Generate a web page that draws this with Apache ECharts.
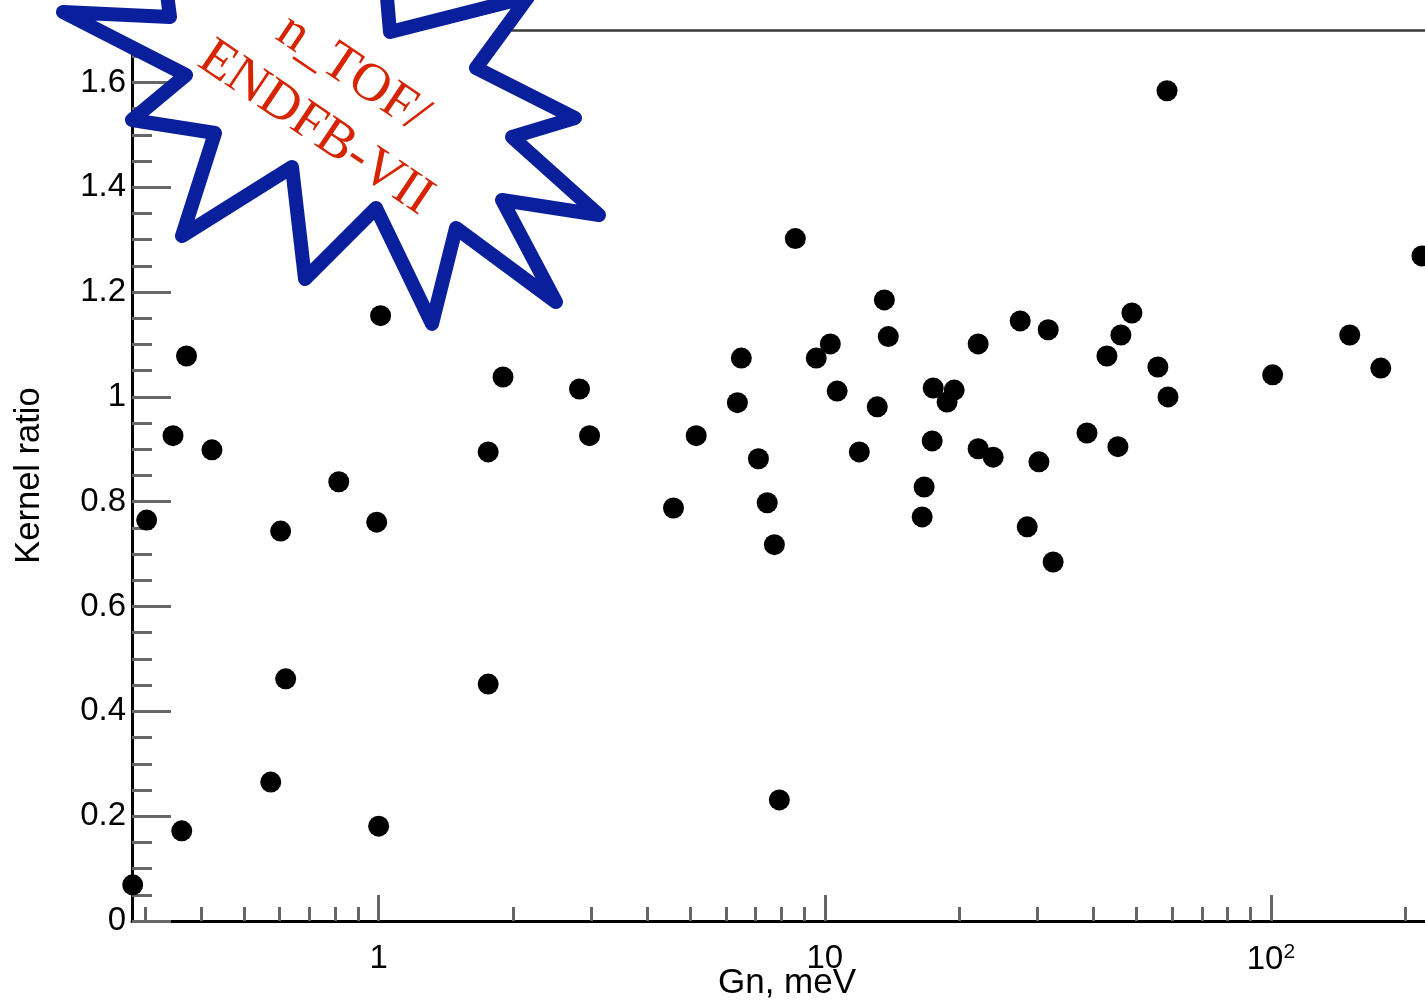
<!DOCTYPE html>
<html>
<head>
<meta charset="utf-8">
<script src="https://cdn.jsdelivr.net/npm/echarts@6/dist/echarts.min.js"></script>
<style>html,body{margin:0;padding:0;background:#fff}#c{width:1425px;height:1004px}</style>
</head>
<body>
<div id="c"></div>
<script>
// ---- data ----
const gn = [0.281, 0.302, 0.346, 0.371, 0.362, 0.423, 0.573, 0.603, 0.619, 0.814,
  0.99, 1.01, 1.0, 1.76, 1.76, 1.90, 2.82, 2.97, 4.58, 5.15,
  6.37, 6.50, 7.10, 7.43, 7.71, 7.91, 8.59, 9.57, 10.29, 10.66,
  11.95, 13.11, 13.6, 13.88, 16.53, 16.70, 17.41, 17.5, 18.8, 19.5,
  22.07, 22.07, 23.85, 27.42, 28.43, 30.2, 31.68, 32.5, 38.7, 42.9,
  45.4, 46.1, 48.8, 55.8, 58.5, 58.8, 100.9, 150.2, 176.3, 218];
const kernelRatio = [0.069, 0.765, 0.926, 1.078, 0.172, 0.899, 0.265, 0.744, 0.462, 0.838,
  0.761, 1.155, 0.181, 0.895, 0.452, 1.038, 1.015, 0.926, 0.788, 0.926,
  0.989, 1.074, 0.882, 0.798, 0.718, 0.231, 1.302, 1.074, 1.101, 1.011,
  0.895, 0.981, 1.185, 1.115, 0.771, 0.828, 0.916, 1.017, 0.990, 1.013,
  0.901, 1.101, 0.885, 1.145, 0.752, 0.876, 1.128, 0.685, 0.931, 1.078,
  0.905, 1.118, 1.160, 1.057, 1.584, 1.000, 1.042, 1.118, 1.055, 1.269];

const xMajorTicks = [1, 10, 100];
const xMajorLabels = ['1', '10', '10{s|2}'];
const xMinorTicks = [0.3, 0.4, 0.5, 0.6, 0.7, 0.8, 0.9, 2, 3, 4, 5, 6, 7, 8, 9,
  20, 30, 40, 50, 60, 70, 80, 90, 200];
const yMajorTicks = [0, 0.2, 0.4, 0.6, 0.8, 1, 1.2, 1.4, 1.6];
const yMajorLabels = ['0', '0.2', '0.4', '0.6', '0.8', '1', '1.2', '1.4', '1.6'];

const xTitle = 'Gn, meV';
const yTitle = 'Kernel ratio';
const stampLines = ['n_TOF/', 'ENDFB-VII'];

const points = gn.map((g, i) => [g, kernelRatio[i]]);

const FONT = '"Liberation Sans", Arial, Helvetica, sans-serif';
const XMIN = 0.28, XMAX = 221.5, YMIN = 0, YMAX = 1.7;
const tickColor = '#666';

const chart = echarts.init(document.getElementById('c'), null, {renderer: 'canvas'});

const option = {
  backgroundColor: '#fff',
  animation: false,
  grid: {left: 132, top: 30, right: 0, bottom: 83, containLabel: false},
  xAxis: [
    {
      type: 'log', min: XMIN, max: XMAX, position: 'bottom',
      axisLine: {show: true, lineStyle: {color: '#000', width: 3}},
      axisTick: {show: true, inside: true, length: 26, customValues: xMajorTicks,
        lineStyle: {color: tickColor, width: 3}},
      axisLabel: {show: true, customValues: xMajorTicks, margin: 21,
        fontFamily: FONT, fontSize: 33, color: '#000',
        formatter: function (v) { const i = xMajorTicks.indexOf(v); return i >= 0 ? xMajorLabels[i] : ''; },
        rich: {s: {fontFamily: FONT, fontSize: 21, color: '#000', verticalAlign: 'top', padding: [0, 0, 14, 0]}}},
      splitLine: {show: false}
    },
    {
      type: 'log', min: XMIN, max: XMAX, position: 'bottom',
      axisLine: {show: false},
      axisTick: {show: true, inside: true, length: 14, customValues: xMinorTicks,
        lineStyle: {color: tickColor, width: 3}},
      axisLabel: {show: false},
      splitLine: {show: false}
    },
    {
      type: 'log', min: XMIN, max: XMAX, position: 'top',
      axisLine: {show: true, lineStyle: {color: '#3a3a3a', width: 2.5}},
      axisTick: {show: false}, axisLabel: {show: false}, splitLine: {show: false}
    }
  ],
  yAxis: [
    {
      type: 'value', min: YMIN, max: YMAX, position: 'left',
      name: yTitle, nameLocation: 'middle', nameGap: 85,
      nameTextStyle: {fontFamily: FONT, fontSize: 34.5, color: '#000'},
      axisLine: {show: true, lineStyle: {color: '#000', width: 3}},
      axisTick: {show: true, inside: true, length: 39, customValues: yMajorTicks,
        lineStyle: {color: tickColor, width: 3}},
      axisLabel: {show: true, customValues: yMajorTicks, margin: 6,
        fontFamily: FONT, fontSize: 33, color: '#000',
        formatter: function (v) { const i = yMajorTicks.indexOf(v); return i >= 0 ? yMajorLabels[i] : ''; }},
      splitLine: {show: false}
    },
    {
      type: 'value', min: YMIN, max: YMAX, interval: 0.05, position: 'left',
      axisLine: {show: false},
      axisTick: {show: true, inside: true, length: 20, lineStyle: {color: tickColor, width: 3}},
      axisLabel: {show: false},
      splitLine: {show: false}
    }
  ],
  series: [{
    type: 'scatter', xAxisIndex: 0, yAxisIndex: 0,
    data: points, symbol: 'circle', symbolSize: 21,
    itemStyle: {color: '#000', opacity: 1}, clip: false, z: 5
  }],
  graphic: [
    {
      type: 'text', z: 10, x: 787, y: 983,
      style: {text: xTitle, fontFamily: FONT, fontSize: 35, fill: '#000',
        textAlign: 'center', textVerticalAlign: 'middle'}
    },
    {
      type: 'polygon', z: 100,
      shape: {points: [[63,12],[186,75],[132,120],[215,133],[182,236],[292,167],[305,279],[376,208],
        [432,324],[456,228],[556,302],[502,200],[599,215],[512,137],[575,118],[476,68],
        [528,-3],[390,32],[382,-60],[275,-40],[160,-60],[170,17]]},
      style: {fill: '#fff', stroke: '#0a1f9c', lineWidth: 14, lineJoin: 'round'}
    },
    {
      type: 'text', z: 101, x: 334, y: 101, rotation: -34 * Math.PI / 180,
      style: {text: stampLines.join('\n'), fontFamily: '"Liberation Serif", "Times New Roman", serif',
        fontSize: 54, lineHeight: 66, fill: '#d62400', textAlign: 'center', textVerticalAlign: 'middle'}
    }
  ]
};
chart.setOption(option);
</script>
</body>
</html>
